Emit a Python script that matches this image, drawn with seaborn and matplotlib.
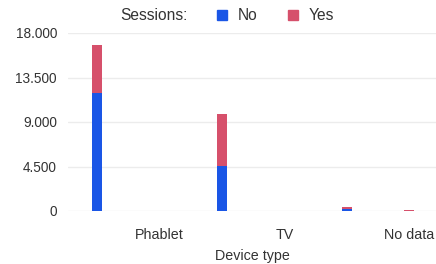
import pandas as pd
import matplotlib.pyplot as plt
import matplotlib.ticker as mticker
import seaborn as sns

# Datos
devices = ['Desktop', 'Phablet', 'Mobile', 'TV', 'Tablet', 'No data']
sessions_no = [11900, 0, 4550, 0, 220, 30]
sessions_yes = [4900, 0, 5250, 0, 150, 80]

df = pd.DataFrame({'device': devices, 'No': sessions_no, 'Yes': sessions_yes})
df['total'] = df['No'] + df['Yes']

blue = '#1a56e6'
red = '#d6506b'

sns.set_style('white')
plt.rcParams['font.family'] = ['Liberation Sans', 'DejaVu Sans']

fig = plt.figure(figsize=(4.36, 2.64), dpi=100)
ax = fig.add_axes([68 / 436, 1 - 211 / 264, 368 / 436, 178 / 264])

# barras apiladas: total en rojo y "No" encima en azul
sns.barplot(x='device', y='total', data=df, color=red, width=0.16, ax=ax,
            saturation=1, linewidth=0, zorder=3)
sns.barplot(x='device', y='No', data=df, color=blue, width=0.16, ax=ax,
            saturation=1, linewidth=0, zorder=4)

ax.set_ylim(0, 18000)
ax.set_xlim(-0.47, 5.43)
ax.set_yticks([0, 4500, 9000, 13500, 18000])
ax.yaxis.set_major_formatter(mticker.FuncFormatter(lambda v, p: f'{int(v):,}'.replace(',', '.')))
ax.grid(axis='y', color='#ececec', linewidth=1, zorder=0)
for s in ax.spines.values():
    s.set_visible(False)

# solo se muestran las etiquetas alternas
ax.set_xticks(range(len(devices)))
ax.set_xticklabels([d if i % 2 == 1 else '' for i, d in enumerate(devices)])
ax.tick_params(axis='x', length=0, pad=12, labelsize=10.3, labelcolor='#333333')
ax.tick_params(axis='y', length=0, pad=8, labelsize=9.8, labelcolor='#333333')
ax.set_xlabel('Device type', fontsize=10.3, color='#333333', va='center')
ax.xaxis.set_label_coords(0.5, -0.253)
ax.set_ylabel('')

# leyenda arriba
fig.text(120 / 436, 1 - 15 / 264, 'Sessions:', fontsize=11.2, color='#333333', va='center')
fig.patches.append(plt.Rectangle((217 / 436, 1 - 20 / 264), 10 / 436, 10 / 264,
                                 transform=fig.transFigure, color=blue, figure=fig))
fig.text(238 / 436, 1 - 15 / 264, 'No', fontsize=11.2, color='#333333', va='center')
fig.patches.append(plt.Rectangle((288 / 436, 1 - 20 / 264), 10 / 436, 10 / 264,
                                 transform=fig.transFigure, color=red, figure=fig))
fig.text(309 / 436, 1 - 15 / 264, 'Yes', fontsize=11.2, color='#333333', va='center')

fig.savefig('out.png', dpi=100)
